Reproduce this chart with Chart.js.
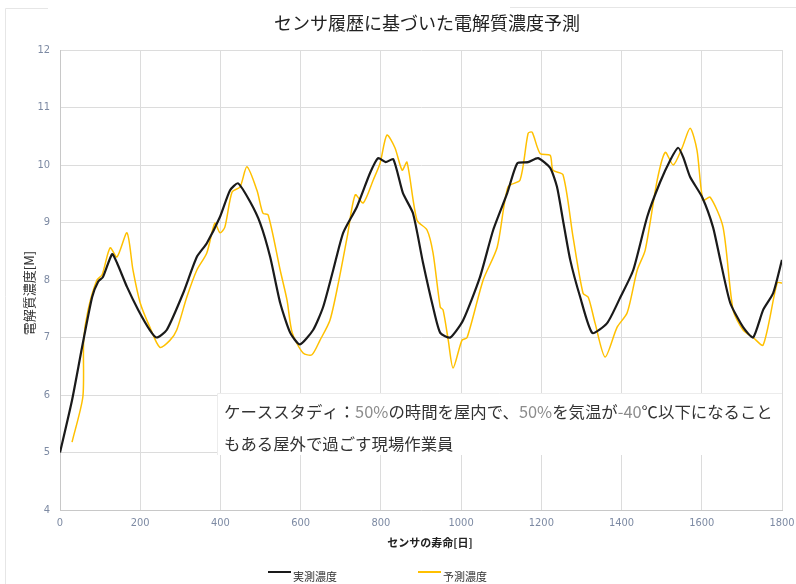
<!DOCTYPE html>
<html>
<head>
<meta charset="utf-8">
<script src="https://cdn.jsdelivr.net/npm/chart.js@4.4.1/dist/chart.umd.min.js"></script>
<style>
  html, body { margin: 0; padding: 0; background: #fff; }
  #wrap { width: 796px; height: 584px; }
</style>
</head>
<body>
<div id="wrap"><canvas id="myChart" width="796" height="584"></canvas></div>
<script>
// measured concentration (black)
const measuredDays = [0, 30, 55, 80, 95, 107, 130, 142, 167, 195, 224, 241, 266, 307, 341, 366, 399, 424, 444, 474,
  499, 524, 549, 574, 598, 631, 656, 681, 706, 740, 773, 793, 812, 831, 855, 880, 905, 930, 948, 973,
  1005, 1047, 1080, 1115, 1140, 1167, 1192, 1222, 1239, 1254, 1272, 1297, 1327, 1364, 1397, 1429, 1464, 1496, 1521, 1541,
  1554, 1571, 1601, 1628, 1646, 1671, 1703, 1728, 1753, 1778, 1800];
const measuredConc = [5.0, 5.91, 6.83, 7.7, 7.97, 8.05, 8.45, 8.3, 7.88, 7.48, 7.13, 7.0, 7.13, 7.77, 8.4, 8.64, 9.1, 9.56, 9.68, 9.36,
  8.99, 8.4, 7.6, 7.08, 6.88, 7.13, 7.53, 8.17, 8.82, 9.27, 9.86, 10.12, 10.05, 10.1, 9.51, 9.16, 8.3, 7.53, 7.08, 7.0,
  7.3, 8.05, 8.87, 9.51, 10.03, 10.05, 10.12, 9.95, 9.62, 9.04, 8.35, 7.7, 7.08, 7.25, 7.7, 8.17, 9.1, 9.7, 10.08, 10.3,
  10.13, 9.79, 9.44, 8.92, 8.35, 7.6, 7.18, 7.0, 7.48, 7.77, 8.35];

// predicted concentration (yellow)
const predictedDays = [30, 57, 59, 70, 92, 105, 125, 142, 167, 182, 200, 224, 249, 274, 291, 316, 341, 366, 386, 399,
  411, 429, 449, 466, 491, 506, 519, 549, 566, 579, 606, 628, 648, 673, 694, 716, 736, 756, 781, 798,
  815, 835, 853, 865, 890, 915, 930, 948, 955, 968, 980, 1002, 1015, 1055, 1090, 1117, 1147, 1167, 1177, 1197,
  1222, 1229, 1254, 1279, 1304, 1317, 1334, 1359, 1389, 1414, 1439, 1459, 1489, 1509, 1529, 1551, 1571, 1588, 1603, 1621,
  1653, 1678, 1703, 1728, 1753, 1788, 1800];
const predictedConc = [5.18, 5.97, 6.95, 7.48, 8.0, 8.09, 8.56, 8.4, 8.82, 8.17, 7.6, 7.18, 6.83, 6.95, 7.13, 7.7, 8.17, 8.47, 8.99, 8.82,
  8.92, 9.53, 9.62, 9.97, 9.56, 9.16, 9.13, 8.17, 7.65, 7.08, 6.73, 6.7, 6.95, 7.3, 7.95, 8.75, 9.48, 9.34, 9.74, 10.03,
  10.52, 10.3, 9.91, 10.05, 9.04, 8.87, 8.47, 7.53, 7.48, 6.95, 6.47, 6.95, 7.0, 8.0, 8.57, 9.62, 9.74, 10.55, 10.57, 10.2,
  10.17, 9.91, 9.83, 8.75, 7.77, 7.7, 7.25, 6.66, 7.18, 7.43, 8.17, 8.52, 9.74, 10.22, 10.0, 10.3, 10.64, 10.26, 9.39, 9.44,
  8.92, 7.48, 7.13, 7.0, 6.87, 7.95, 7.95];

const seriesNames = ["実測濃度", "予測濃度"];
const seriesColors = ["#1a1a1a", "#ffc000"];

const titleText = "センサ履歴に基づいた電解質濃度予測";
const xTitle = "センサの寿命[日]";
const yTitle = "電解質濃度[M]";
// note text: [text, isGray]
const noteLine1 = [["ケーススタディ：", false], ["50%", true], ["の時間を屋内で、", false], ["50%", true],
  ["を気温が", false], ["-40", true], ["℃以下になること", false]];
const noteLine2 = [["もある屋外で過ごす現場作業員", false]];

const jpFont = '"Noto Sans CJK JP", "Noto Sans", sans-serif';
const tickFont = '"Liberation Sans Narrow", "DejaVu Sans Condensed", sans-serif';

function toPoints(xs, ys) {
  return xs.map((x, i) => ({ x: x, y: ys[i] }));
}

const overlay = {
  id: "overlay",
  beforeDraw(chart) {
    const c = chart.ctx;
    c.save();
    // outer frame bits
    c.strokeStyle = "#e6e6e6";
    c.lineWidth = 1;
    c.beginPath();
    c.moveTo(5.5, 584);
    c.lineTo(5.5, 8.5);
    c.lineTo(48, 8.5);
    c.moveTo(510, 7.5);
    c.lineTo(796, 7.5);
    c.stroke();
    c.restore();
  },
  afterDraw(chart) {
    const c = chart.ctx;
    const area = chart.chartArea;
    c.save();

    // title
    c.fillStyle = "#222";
    c.font = "18px " + jpFont;
    c.textAlign = "center";
    c.textBaseline = "middle";
    c.fillText(titleText, 427, 23);

    // x title
    c.font = "bold 11px " + jpFont;
    c.fillText(xTitle, 430, 543);

    // y title
    c.save();
    c.translate(29, 293);
    c.rotate(-Math.PI / 2);
    c.font = "13px " + jpFont;
    c.fillStyle = "#333";
    c.fillText(yTitle, 0, 0);
    c.restore();

    // note box
    c.fillStyle = "#fff";
    c.fillRect(217, 393, area.right - 217, 62);
    c.strokeStyle = "#ececec";
    c.lineWidth = 1;
    c.beginPath();
    c.moveTo(217.5, 455);
    c.lineTo(217.5, 393.5);
    c.lineTo(area.right, 393.5);
    c.stroke();

    c.textAlign = "left";
    c.font = "16.4px " + jpFont;
    function drawRun(parts, x, y) {
      parts.forEach(p => {
        c.fillStyle = p[1] ? "#8c8c8c" : "#333";
        c.fillText(p[0], x, y);
        x += c.measureText(p[0]).width;
      });
    }
    drawRun(noteLine1, 224, 412);
    drawRun(noteLine2, 224, 444);

    // legend
    const legendX = [268, 418];
    c.font = "11px " + jpFont;
    c.lineWidth = 2;
    seriesNames.forEach((name, i) => {
      c.strokeStyle = seriesColors[i];
      c.beginPath();
      c.moveTo(legendX[i], 572);
      c.lineTo(legendX[i] + 23, 572);
      c.stroke();
      c.fillStyle = "#333";
      c.fillText(name, legendX[i] + 25, 577);
    });

    c.restore();
  }
};

const ctx = document.getElementById("myChart").getContext("2d");
const myChart = new Chart(ctx, {
  type: "line",
  data: {
    datasets: [
      {
        label: seriesNames[0],
        data: toPoints(measuredDays, measuredConc),
        borderColor: seriesColors[0],
        borderWidth: 2.2,
        pointRadius: 0,
        tension: 0.2,
        order: 1
      },
      {
        label: seriesNames[1],
        data: toPoints(predictedDays, predictedConc),
        borderColor: seriesColors[1],
        borderWidth: 1.5,
        pointRadius: 0,
        tension: 0.25,
        order: 2
      }
    ]
  },
  options: {
    responsive: false,
    animation: false,
    layout: { padding: { top: 50, right: 4, left: 0, bottom: 0 } },
    plugins: {
      legend: { display: false },
      title: { display: false },
      tooltip: { enabled: false }
    },
    scales: {
      x: {
        type: "linear",
        min: 0,
        max: 1800,
        afterFit: (s) => { s.height = 74; s.paddingRight = 14; },
        ticks: {
          stepSize: 200,
          padding: 7,
          maxRotation: 0,
          color: "#7d8aa3",
          font: { family: tickFont, size: 11 },
          callback: (v) => String(v)
        },
        grid: { color: "#dcdcdc", drawTicks: false },
        border: { color: "#c8c8c8" }
      },
      y: {
        min: 4,
        max: 12,
        afterFit: (s) => { s.width = 60; },
        ticks: {
          stepSize: 1,
          padding: 10,
          color: "#7d8aa3",
          font: { family: tickFont, size: 11 }
        },
        grid: { color: "#dcdcdc", drawTicks: false },
        border: { color: "#c8c8c8" }
      }
    }
  },
  plugins: [overlay]
});
</script>
</body>
</html>
